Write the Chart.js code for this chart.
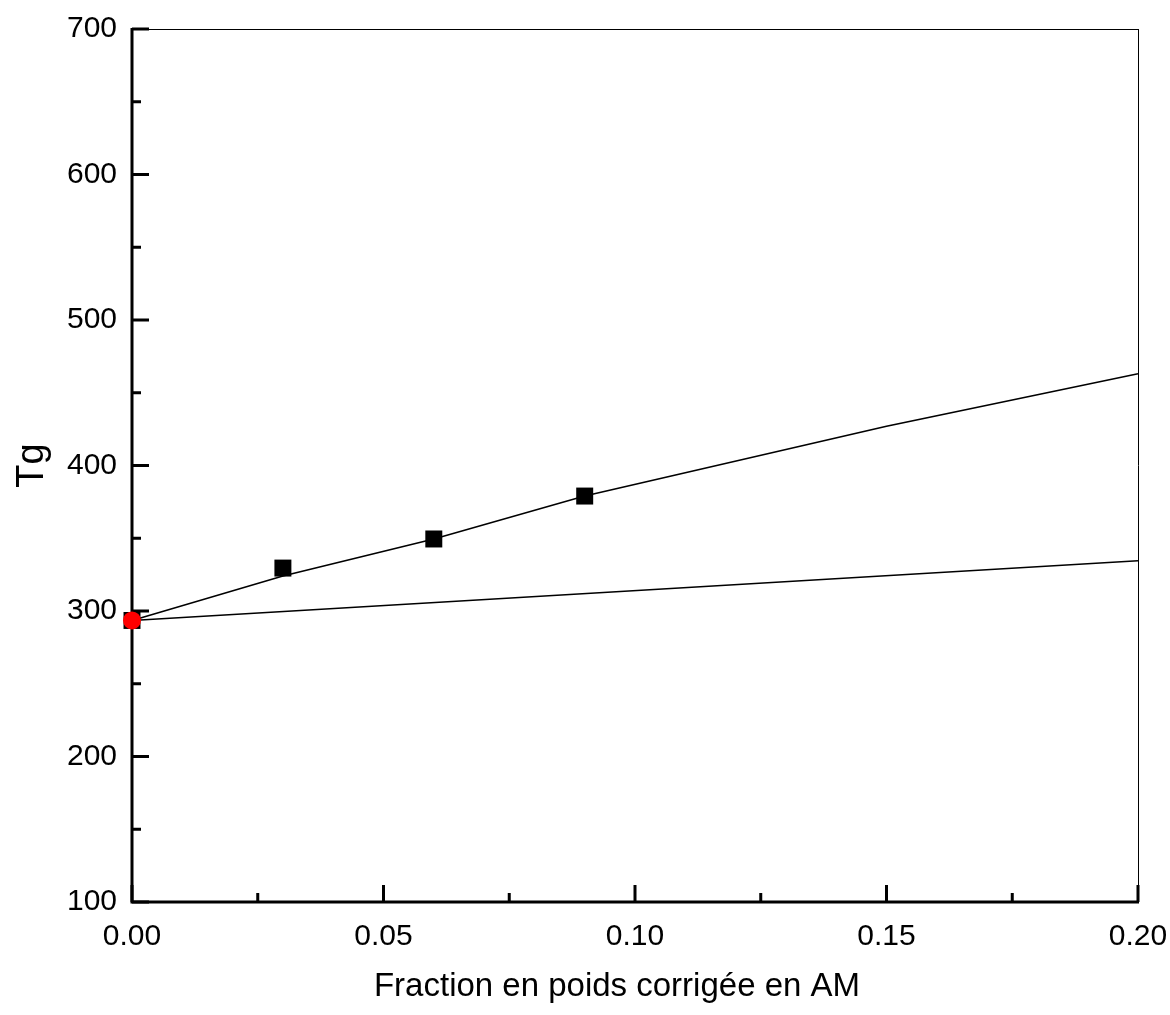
<!DOCTYPE html>
<html>
<head>
<meta charset="utf-8">
<script src="https://cdn.jsdelivr.net/npm/chart.js@4.4.0/dist/chart.umd.min.js"></script>
<style>
html,body{margin:0;padding:0;background:#fff;}
#wrap{width:1170px;height:1015px;position:relative;}
</style>
</head>
<body>
<div id="wrap"><canvas id="c" width="1170" height="1015"></canvas></div>
<script>
// Measured samples (black squares)
const sampleX = [0, 0.03, 0.06, 0.09];
const sampleY = [293.5, 329.5, 349.5, 379];
// Pure reference (red circle)
const refX = [0];
const refY = [293.5];
// Upper fitted curve
const fitUpperX = [0, 0.03, 0.06, 0.09, 0.15, 0.2];
const fitUpperY = [293.5, 324, 349.5, 379, 427, 463];
// Lower line
const fitLowerX = [0, 0.2];
const fitLowerY = [293.5, 334.5];
// Axes
const xMajorTicks = [0, 0.05, 0.10, 0.15, 0.20];
const xMinorTicks = [0.025, 0.075, 0.125, 0.175];
const yMajorTicks = [100, 200, 300, 400, 500, 600, 700];
const yMinorTicks = [150, 250, 350, 450, 550, 650];
const xTitle = 'Fraction en poids corrigée en AM';
const yTitle = 'Tg';

const toPts = (xs, ys) => xs.map((x, i) => ({x: x, y: ys[i]}));
const FONT = "'Liberation Sans', Arial, sans-serif";

const framePlugin = {
  id: 'frame',
  beforeDatasetsDraw(chart) {
    const ctx = chart.ctx;
    const a = chart.chartArea;
    const xs = chart.scales.x, ys = chart.scales.y;
    ctx.save();
    ctx.strokeStyle = '#000';
    ctx.lineWidth = 1;
    ctx.beginPath();
    ctx.moveTo(a.left, a.top + 0.5); ctx.lineTo(a.right, a.top + 0.5);
    ctx.moveTo(a.right + 0.5, a.top); ctx.lineTo(a.right + 0.5, a.bottom);
    ctx.stroke();
    ctx.lineWidth = 3;
    ctx.beginPath();
    ctx.moveTo(a.left, a.top - 1); ctx.lineTo(a.left, a.bottom + 1.5);
    ctx.moveTo(a.left - 1.5, a.bottom); ctx.lineTo(a.right + 1, a.bottom);
    ctx.stroke();
    ctx.lineWidth = 3;
    ctx.beginPath();
    xMajorTicks.forEach(v => { const p = xs.getPixelForValue(v); ctx.moveTo(p, a.bottom); ctx.lineTo(p, a.bottom - 17); });
    xMinorTicks.forEach(v => { const p = xs.getPixelForValue(v); ctx.moveTo(p, a.bottom); ctx.lineTo(p, a.bottom - 9); });
    yMajorTicks.forEach(v => { const p = ys.getPixelForValue(v); ctx.moveTo(a.left, p); ctx.lineTo(a.left + 17, p); });
    yMinorTicks.forEach(v => { const p = ys.getPixelForValue(v); ctx.moveTo(a.left, p); ctx.lineTo(a.left + 9, p); });
    ctx.stroke();
    ctx.restore();
  },
  afterDraw(chart) {
    const ctx = chart.ctx;
    ctx.save();
    ctx.fillStyle = '#000';
    ctx.font = "33px " + FONT;
    ctx.textAlign = 'center';
    ctx.textBaseline = 'middle';
    ctx.fillText(xTitle, 617, 987);
    ctx.restore();
  }
};

new Chart(document.getElementById('c'), {
  type: 'scatter',
  data: {
    datasets: [
      { data: toPts(fitUpperX, fitUpperY), showLine: true, borderColor: '#000', borderWidth: 1.6, pointRadius: 0, fill: false, tension: 0, clip: false, order: 3 },
      { data: toPts(fitLowerX, fitLowerY), showLine: true, borderColor: '#000', borderWidth: 1.6, pointRadius: 0, fill: false, tension: 0, clip: false, order: 3 },
      { data: toPts(sampleX, sampleY), showLine: false, pointStyle: 'rect', pointRadius: 12, backgroundColor: '#000', borderColor: '#000', borderWidth: 0, clip: false, order: 2 },
      { data: toPts(refX, refY), showLine: false, pointStyle: 'circle', pointRadius: 9, backgroundColor: '#ff0000', borderColor: '#ff0000', borderWidth: 0, clip: false, order: 1 }
    ]
  },
  options: {
    responsive: false,
    animation: false,
    events: [],
    layout: { padding: { left: 0, right: 32, top: 29, bottom: 0 } },
    plugins: { legend: { display: false }, tooltip: { enabled: false } },
    scales: {
      x: {
        type: 'linear', min: 0, max: 0.2,
        grid: { display: false, drawTicks: false },
        border: { display: false },
        afterBuildTicks(s) { s.ticks = xMajorTicks.map(v => ({value: v})); },
        ticks: { color: '#000', font: { family: FONT, size: 30 }, padding: 17, maxRotation: 0,
                 callback: v => Number(v).toFixed(2) },
        title: { display: false, text: xTitle },
        afterFit(s) { s.height = 113; s.paddingLeft = 0; s.paddingRight = 0; }
      },
      y: {
        type: 'linear', min: 100, max: 700,
        grid: { display: false, drawTicks: false },
        border: { display: false },
        afterBuildTicks(s) { s.ticks = yMajorTicks.map(v => ({value: v})); },
        ticks: { color: '#000', font: { family: FONT, size: 30 }, padding: 15,
                 callback: v => String(v) },
        title: { display: true, text: yTitle, color: '#000', font: { family: FONT, size: 38 }, padding: { top: 10, bottom: 0 } },
        afterFit(s) { s.width = 132; s.paddingTop = 0; s.paddingBottom = 0; }
      }
    }
  },
  plugins: [framePlugin]
});
</script>
</body>
</html>
